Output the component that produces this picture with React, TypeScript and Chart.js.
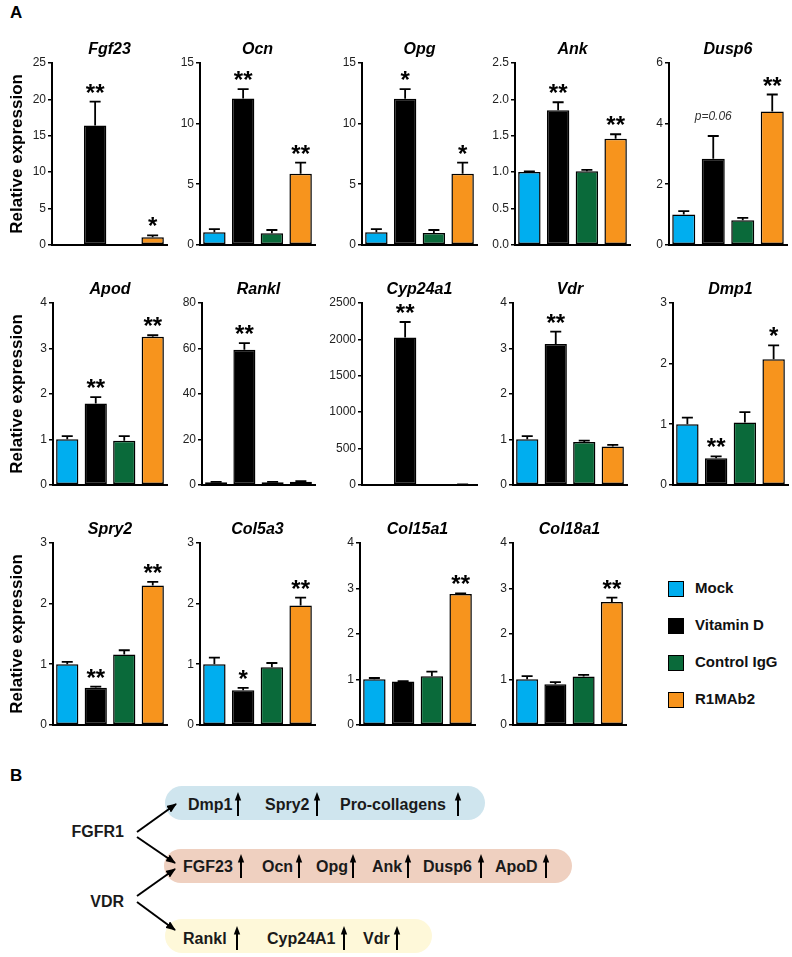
import React, { useEffect, useRef } from 'react';
import { Chart, registerables } from 'chart.js';

Chart.register(...registerables);

const FONT = '"Liberation Sans", Arial, Helvetica, sans-serif';

// ---------- DATA ----------
const groups = ['Mock', 'Vitamin D', 'Control IgG', 'R1MAb2'];
const groupColors = ['#00AEEF', '#000000', '#0A6A3A', '#F7941D'];

const fgf23 = [null, 16.4, null, 1.05];
const fgf23Err = [0, 3.3, 0, 0.25];
const fgf23Sig = ['', '**', '', '*'];

const ocn = [1.03, 12.08, 0.95, 5.86];
const ocnErr = [0.27, 0.76, 0.27, 0.92];
const ocnSig = ['', '**', '', '**'];

const opg = [1.03, 12.05, 0.98, 5.86];
const opgErr = [0.27, 0.8, 0.24, 0.92];
const opgSig = ['', '*', '', '*'];

const ank = [1.0, 1.85, 1.01, 1.46];
const ankErr = [0.01, 0.11, 0.02, 0.06];
const ankSig = ['', '**', '', '**'];

const dusp6 = [1.0, 2.84, 0.81, 4.4];
const dusp6Err = [0.11, 0.75, 0.08, 0.56];
const dusp6Sig = ['', 'p=0.06', '', '**'];

const apod = [1.0, 1.79, 0.97, 3.26];
const apodErr = [0.07, 0.14, 0.1, 0.03];
const apodSig = ['', '**', '', '**'];

const rankl = [1.1, 59.4, 1.1, 1.3];
const ranklErr = [0.2, 2.9, 0.2, 0.3];
const ranklSig = ['', '**', '', ''];

const cyp24a1 = [1, 2027, 1, 6];
const cyp24a1Err = [0, 212, 0, 1];
const cyp24a1Sig = ['', '**', '', ''];

const vdr = [1.0, 3.1, 0.94, 0.84];
const vdrErr = [0.07, 0.27, 0.03, 0.04];
const vdrSig = ['', '**', '', ''];

const dmp1 = [1.0, 0.44, 1.03, 2.07];
const dmp1Err = [0.11, 0.03, 0.17, 0.23];
const dmp1Sig = ['', '**', '', '*'];

const spry2 = [1.0, 0.61, 1.16, 2.3];
const spry2Err = [0.04, 0.02, 0.07, 0.06];
const spry2Sig = ['', '**', '', '**'];

const col5a3 = [1.0, 0.57, 0.95, 1.97];
const col5a3Err = [0.11, 0.04, 0.07, 0.13];
const col5a3Sig = ['', '*', '', '**'];

const col15a1 = [1.0, 0.95, 1.07, 2.88];
const col15a1Err = [0.03, 0.01, 0.1, 0.01];
const col15a1Sig = ['', '', '', '**'];

const col18a1 = [1.0, 0.89, 1.06, 2.7];
const col18a1Err = [0.07, 0.05, 0.04, 0.1];
const col18a1Sig = ['', '', '', '**'];

const yAxisTitle = 'Relative expression';

const panels = [
  { title: 'Fgf23', values: fgf23, errs: fgf23Err, sig: fgf23Sig, max: 25, step: 5, dec: 0 },
  { title: 'Ocn', values: ocn, errs: ocnErr, sig: ocnSig, max: 15, step: 5, dec: 0 },
  { title: 'Opg', values: opg, errs: opgErr, sig: opgSig, max: 15, step: 5, dec: 0 },
  { title: 'Ank', values: ank, errs: ankErr, sig: ankSig, max: 2.5, step: 0.5, dec: 1 },
  { title: 'Dusp6', values: dusp6, errs: dusp6Err, sig: dusp6Sig, max: 6, step: 2, dec: 0 },
  { title: 'Apod', values: apod, errs: apodErr, sig: apodSig, max: 4, step: 1, dec: 0 },
  { title: 'Rankl', values: rankl, errs: ranklErr, sig: ranklSig, max: 80, step: 20, dec: 0 },
  { title: 'Cyp24a1', values: cyp24a1, errs: cyp24a1Err, sig: cyp24a1Sig, max: 2500, step: 500, dec: 0 },
  { title: 'Vdr', values: vdr, errs: vdrErr, sig: vdrSig, max: 4, step: 1, dec: 0 },
  { title: 'Dmp1', values: dmp1, errs: dmp1Err, sig: dmp1Sig, max: 3, step: 1, dec: 0 },
  { title: 'Spry2', values: spry2, errs: spry2Err, sig: spry2Sig, max: 3, step: 1, dec: 0 },
  { title: 'Col5a3', values: col5a3, errs: col5a3Err, sig: col5a3Sig, max: 3, step: 1, dec: 0 },
  { title: 'Col15a1', values: col15a1, errs: col15a1Err, sig: col15a1Sig, max: 4, step: 1, dec: 0 },
  { title: 'Col18a1', values: col18a1, errs: col18a1Err, sig: col18a1Sig, max: 4, step: 1, dec: 0 },
];

// Panel B
const fgfrTargets = ['Dmp1', 'Spry2', 'Pro-collagens'];
const sharedTargets = ['FGF23', 'Ocn', 'Opg', 'Ank', 'Dusp6', 'ApoD'];
const vdrTargets = ['Rankl', 'Cyp24A1', 'Vdr'];

// ---------- LAYOUT ----------
const rowsTB = [
  [63, 248],
  [303, 488],
  [543, 728],
];
const boxes = [
  { L: 52, R: 167, row: 0, first: true },
  { L: 200, R: 315, row: 0 },
  { L: 362, R: 477, row: 0 },
  { L: 515, R: 630, row: 0 },
  { L: 669, R: 787, row: 0 },
  { L: 53, R: 167, row: 1, first: true },
  { L: 202, R: 315, row: 1 },
  { L: 362, R: 477, row: 1 },
  { L: 513, R: 627, row: 1 },
  { L: 673, R: 788, row: 1 },
  { L: 53, R: 167, row: 2, first: true },
  { L: 200, R: 315, row: 2 },
  { L: 360, R: 475, row: 2 },
  { L: 513, R: 626, row: 2 },
];

const decorPlugin = {
  id: 'decor',
  afterDatasetsDraw(chart: any, _args: any, opts: any) {
    const { ctx, chartArea } = chart;
    const ys = chart.scales.y;
    const meta = chart.getDatasetMeta(0);
    ctx.save();
    meta.data.forEach((bar: any, i: number) => {
      const v = opts.values[i];
      if (v == null) return;
      const e = opts.errs[i] || 0;
      const x = bar.x;
      const y0 = ys.getPixelForValue(v);
      const y1 = ys.getPixelForValue(v + e);
      if (e > 0) {
        ctx.strokeStyle = '#000';
        ctx.lineWidth = 1.8;
        ctx.beginPath();
        ctx.moveTo(x, y0);
        ctx.lineTo(x, y1);
        ctx.moveTo(x - 5.5, y1);
        ctx.lineTo(x + 5.5, y1);
        ctx.stroke();
      }
      const s = opts.sig[i];
      if (s) {
        ctx.textAlign = 'center';
        if (s.startsWith('p')) {
          ctx.font = `italic 12px ${FONT}`;
          ctx.textBaseline = 'middle';
          ctx.fillStyle = '#333';
          ctx.fillText(s, x, y1 - 19);
        } else {
          ctx.font = `bold 24px ${FONT}`;
          ctx.textBaseline = 'alphabetic';
          ctx.fillStyle = '#000';
          ctx.fillText(s, x, y1 - 1);
        }
      }
    });
    ctx.font = `bold italic 16px ${FONT}`;
    ctx.fillStyle = '#000';
    ctx.textAlign = 'center';
    ctx.textBaseline = 'middle';
    ctx.fillText(opts.title, (chartArea.left + chartArea.right) / 2, chartArea.top - 13);
    ctx.restore();
  },
};

const PT = 34;
const PB = 6;
const PR = 6;

function BarPanel({ spec, box }: any) {
  const ref = useRef<HTMLCanvasElement>(null);
  const [T, B] = rowsTB[box.row];
  const yw = box.first ? box.L : 46;
  const left = box.L - yw;
  const width = yw + (box.R - box.L) + PR;
  const top = T - PT;
  const height = PT + (B - T) + PB;

  useEffect(() => {
    const chart = new Chart(ref.current as HTMLCanvasElement, {
      type: 'bar',
      data: {
        labels: groups,
        datasets: [
          {
            data: spec.values,
            backgroundColor: groupColors,
            borderColor: '#000',
            borderWidth: 1.5,
            borderSkipped: false,
            barPercentage: 0.78,
            categoryPercentage: 1,
          } as any,
        ],
      },
      options: {
        responsive: false,
        animation: false,
        layout: { padding: { top: PT, bottom: PB, right: PR, left: 0 } },
        plugins: {
          legend: { display: false },
          tooltip: { enabled: false },
          decor: { values: spec.values, errs: spec.errs, sig: spec.sig, title: spec.title },
        } as any,
        scales: {
          x: {
            type: 'category',
            ticks: { display: false },
            grid: { display: false },
            border: { display: true, color: '#000', width: 2 },
            afterFit: (s: any) => {
              s.height = 0;
            },
          } as any,
          y: {
            min: 0,
            max: spec.max,
            ticks: {
              stepSize: spec.step,
              color: '#222',
              padding: 2,
              font: { family: FONT, size: 12 },
              callback: (v: any) => Number(v).toFixed(spec.dec),
            },
            grid: { drawOnChartArea: false, drawTicks: true, tickLength: 4, color: '#000', lineWidth: 1.5 },
            border: { display: true, color: '#000', width: 2 },
            title: {
              display: !!box.first,
              text: yAxisTitle,
              color: '#000',
              font: { family: FONT, size: 17, weight: 'bold' },
              padding: { top: 7, bottom: 0 },
            },
            afterFit: (s: any) => {
              s.width = yw;
            },
          } as any,
        },
      },
      plugins: [decorPlugin as any],
    });
    return () => chart.destroy();
  }, []);

  return <canvas ref={ref} width={width} height={height} style={{ position: 'absolute', left, top }} />;
}

function Legend() {
  const ys = [589, 626, 663, 700];
  return (
    <>
      {groups.map((g, i) => (
        <React.Fragment key={g}>
          <div
            style={{
              position: 'absolute',
              left: 668,
              top: ys[i] - 8,
              width: 16,
              height: 16,
              boxSizing: 'border-box',
              border: '1.5px solid #000',
              background: groupColors[i],
            }}
          />
          <div
            style={{
              position: 'absolute',
              left: 695,
              top: ys[i] - 10,
              height: 20,
              lineHeight: '20px',
              font: `bold 15px ${FONT}`,
              color: '#111',
              whiteSpace: 'nowrap',
            }}
          >
            {g}
          </div>
        </React.Fragment>
      ))}
    </>
  );
}

function UpArrow({ x, cy }: { x: number; cy: number }) {
  return (
    <svg style={{ position: 'absolute', left: x - 5, top: cy - 12 }} width={10} height={24}>
      <line x1={5} y1={24} x2={5} y2={5} stroke="#000" strokeWidth={2} />
      <path d="M1.8,8.5 L5,0 L8.2,8.5 Z" fill="#000" />
    </svg>
  );
}

function PanelB() {
  const pills = [
    { left: 165, top: 786, width: 320, color: '#CFE5EE' },
    { left: 164, top: 849, width: 408, color: '#EFD0C0' },
    { left: 165, top: 919, width: 267, color: '#FEF8D9' },
  ];
  const rows = [
    { items: fgfrTargets, xs: [188, 265, 340], axs: [238, 317, 458], cy: 806 },
    { items: sharedTargets, xs: [183, 262, 316, 372, 423, 495], axs: [241, 299, 353, 408, 481, 546], cy: 868 },
    { items: vdrTargets, xs: [183, 267, 363], axs: [237, 344, 397], cy: 940 },
  ];
  const textStyle = (x: number, cy: number): React.CSSProperties => ({
    position: 'absolute',
    left: x,
    top: cy - 10,
    height: 20,
    lineHeight: '20px',
    font: `bold 16px ${FONT}`,
    color: '#1a1a1a',
    whiteSpace: 'nowrap',
  });
  return (
    <>
      <div style={{ position: 'absolute', left: 10, top: 766, font: `bold 17px ${FONT}`, color: '#000' }}>B</div>
      {pills.map((p, i) => (
        <div
          key={i}
          style={{
            position: 'absolute',
            left: p.left,
            top: p.top,
            width: p.width,
            height: 34,
            borderRadius: 17,
            background: p.color,
          }}
        />
      ))}
      {rows.map((r, ri) =>
        r.items.map((t, i) => (
          <React.Fragment key={ri + '-' + t}>
            <div style={textStyle(r.xs[i], r.cy)}>{t}</div>
            <UpArrow x={r.axs[i]} cy={r.cy - 2} />
          </React.Fragment>
        ))
      )}
      <div style={{ ...textStyle(70, 833), left: undefined, right: 792 - 124, textAlign: 'right' }}>FGFR1</div>
      <div style={{ ...textStyle(90, 903), left: undefined, right: 792 - 124, textAlign: 'right' }}>VDR</div>
      <svg style={{ position: 'absolute', left: 0, top: 760 }} width={200} height={197}>
        <defs>
          <marker id="ah" markerWidth="10" markerHeight="8" refX="9" refY="4" orient="auto" markerUnits="userSpaceOnUse">
            <path d="M0,0 L10,4 L0,8 Z" fill="#000" />
          </marker>
        </defs>
        <line x1={137} y1={72} x2={176} y2={44} stroke="#000" strokeWidth={2} markerEnd="url(#ah)" />
        <line x1={137} y1={77} x2={175} y2={103} stroke="#000" strokeWidth={2} markerEnd="url(#ah)" />
        <line x1={137} y1={136} x2={175} y2={109} stroke="#000" strokeWidth={2} markerEnd="url(#ah)" />
        <line x1={137} y1={142} x2={175} y2={170} stroke="#000" strokeWidth={2} markerEnd="url(#ah)" />
      </svg>
    </>
  );
}

export default function App() {
  return (
    <div style={{ position: 'absolute', left: 0, top: 0, width: 792, height: 957, background: '#fff', overflow: 'hidden' }}>
      <div style={{ position: 'absolute', left: 10, top: 3, font: `bold 17px ${FONT}`, color: '#000' }}>A</div>
      {panels.map((p, i) => (
        <BarPanel key={p.title} spec={p} box={boxes[i]} />
      ))}
      <Legend />
      <PanelB />
    </div>
  );
}
